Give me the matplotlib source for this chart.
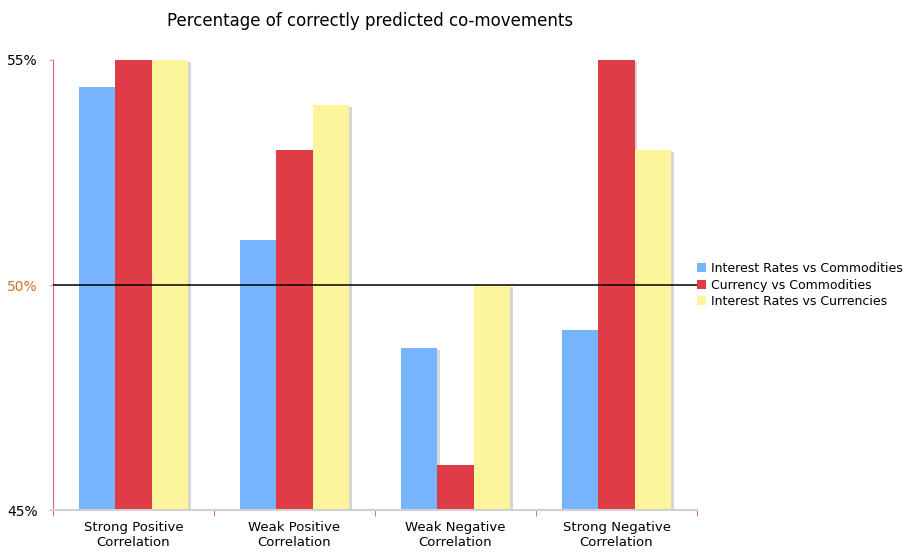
import matplotlib.pyplot as plt
import numpy as np

categories = ["Strong Positive\nCorrelation", "Weak Positive\nCorrelation",
              "Weak Negative\nCorrelation", "Strong Negative\nCorrelation"]
series_names = ["Interest Rates vs Commodities", "Currency vs Commodities",
                "Interest Rates vs Currencies"]
ir_vs_comm = [54.4, 51.0, 48.6, 49.0]
cur_vs_comm = [55.0, 53.0, 46.0, 55.0]
ir_vs_cur = [55.0, 54.0, 50.0, 53.0]
colors = ["#76b5fd", "#e03c45", "#fdf59b"]

fig = plt.figure(figsize=(9.14, 5.54), dpi=100)
ax = fig.add_axes([0.058, 0.0794, 0.7046, 0.8123])

x = np.arange(len(categories))
w = 0.224
base = 45
for i, (vals, c, name) in enumerate(zip([ir_vs_comm, cur_vs_comm, ir_vs_cur], colors, series_names)):
    pos = x + (i - 1) * w
    heights = np.array(vals) - base
    # soft shadow on the right side
    ax.bar(pos + 0.018, heights - 0.04, w, bottom=base, color="#d6d6d6", zorder=1)
    ax.bar(pos, heights, w, bottom=base, color=c, label=name, zorder=2)

ax.axhline(50, color="black", lw=1.1, zorder=3)

ax.set_xlim(-0.5, len(categories) - 0.5)
ax.set_ylim(45, 55)
ax.set_yticks([45, 50, 55])
ax.set_yticklabels(["45%", "50%", "55%"], fontsize=10)
ax.get_yticklabels()[1].set_color("#d0702a")
ax.tick_params(axis="y", length=3, color="#e8a0a0", pad=8)

ax.set_xticks(x)
ax.set_xticklabels(categories, fontsize=9.5)
ax.tick_params(axis="x", length=0, pad=8)
ax.set_xticks(np.arange(len(categories) + 1) - 0.5, minor=True)
ax.tick_params(axis="x", which="minor", length=4, color="#e05050", direction="out")

for s in ["top", "right"]:
    ax.spines[s].set_visible(False)
ax.spines["left"].set_color("#e06a6a")
ax.spines["bottom"].set_color("#d0d0d0")
ax.spines["bottom"].set_linewidth(1.5)

fig.text(0.405, 0.962, "Percentage of correctly predicted co-movements",
         ha="center", va="center", fontsize=12)

ax.legend(loc="center left", bbox_to_anchor=(1.0, 0.5), frameon=False,
          fontsize=9, handlelength=0.75, handleheight=0.75, handletextpad=0.35,
          labelspacing=0.3, borderaxespad=0.0, borderpad=0.0)

fig.savefig("out.png", dpi=100)
